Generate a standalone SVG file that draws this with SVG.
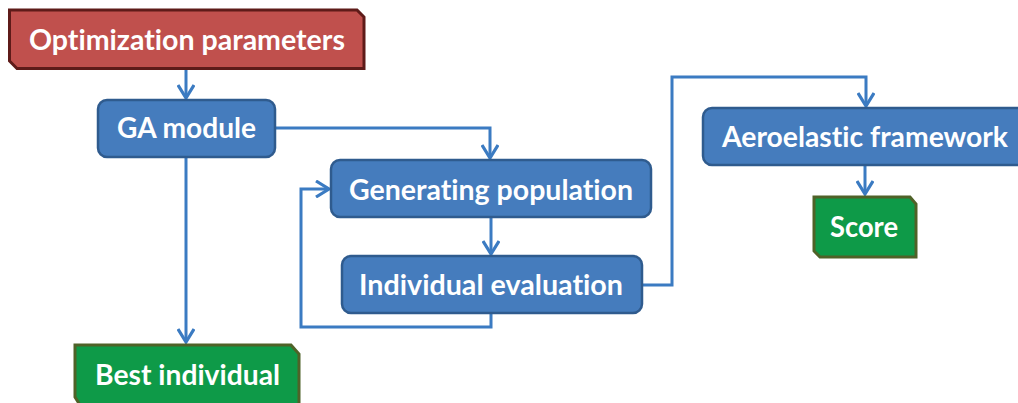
<svg xmlns="http://www.w3.org/2000/svg" width="1018" height="403" viewBox="0 0 1018 403">
  <style>
    .blue { fill: #457CBD; stroke: #2F5B8E; stroke-width: 2.5; }
    .red { fill: #C0504D; stroke: #5E1B19; stroke-width: 3; }
    .green { fill: #0E9A48; stroke: #4F6228; stroke-width: 3; }
    .label { font-family: Lato, "Open Sans", "Liberation Sans", sans-serif; font-weight: bold; font-size: 29px; fill: #FFFFFF; text-anchor: middle; font-variant-ligatures: none; }
    .link { fill: none; stroke: #3B7BC2; stroke-width: 3; marker-end: url(#arrow); }
  </style>
  <defs>
    <marker id="arrow" markerUnits="userSpaceOnUse" markerWidth="18" markerHeight="18" viewBox="0 0 18 18" refX="15" refY="9" orient="auto">
      <polyline points="2,1 15,9 2,17" fill="none" stroke="#3B7BC2" stroke-width="3.2"/>
    </marker>
  </defs>

  <rect width="1018" height="403" fill="#FFFFFF"/>

  <!-- connectors -->
  <g id="connectors">
    <path class="link" d="M 186 70 V 98"/>
    <path class="link" d="M 275 128 H 490 V 158"/>
    <path class="link" d="M 186 158 V 342"/>
    <path class="link" d="M 491 218 V 254"/>
    <path class="link" d="M 491 313 V 327 H 301 V 189 H 329"/>
    <path class="link" d="M 642 285 H 672 V 77 H 866 V 106"/>
    <path class="link" d="M 865 165 V 194"/>
  </g>

  <g id="optimization-parameters">
    <path class="red" d="M 9.5 10 H 357 L 364 17 V 68.5 H 17 L 9.5 61 Z"/>
    <text class="label" x="187" y="49.5" textLength="316" lengthAdjust="spacingAndGlyphs">Optimization parameters</text>
  </g>

  <g id="ga-module">
    <rect class="blue" x="98" y="100" width="177" height="57" rx="9"/>
    <text class="label" x="186.5" y="138" textLength="139" lengthAdjust="spacingAndGlyphs">GA module</text>
  </g>

  <g id="generating-population">
    <rect class="blue" x="331" y="160" width="320" height="57" rx="9"/>
    <text class="label" x="491" y="199.5" textLength="284" lengthAdjust="spacingAndGlyphs">Generating population</text>
  </g>

  <g id="individual-evaluation">
    <rect class="blue" x="342" y="256" width="300" height="57" rx="9"/>
    <text class="label" x="491" y="295" textLength="264" lengthAdjust="spacingAndGlyphs">Individual evaluation</text>
  </g>

  <g id="aeroelastic-framework">
    <rect class="blue" x="703" y="108" width="330" height="57" rx="9"/>
    <text class="label" x="865" y="146.5" textLength="286" lengthAdjust="spacingAndGlyphs">Aeroelastic framework</text>
  </g>

  <g id="score">
    <path class="green" d="M 814 197 H 910 L 916 204 V 257 H 820 L 814 251 Z"/>
    <text class="label" x="864" y="237" textLength="68" lengthAdjust="spacingAndGlyphs">Score</text>
  </g>

  <g id="best-individual">
    <path class="green" d="M 75 345 H 291 L 299 354 V 410 H 83 L 75 397 Z"/>
    <text class="label" x="187.5" y="385" textLength="185" lengthAdjust="spacingAndGlyphs">Best individual</text>
  </g>
</svg>
